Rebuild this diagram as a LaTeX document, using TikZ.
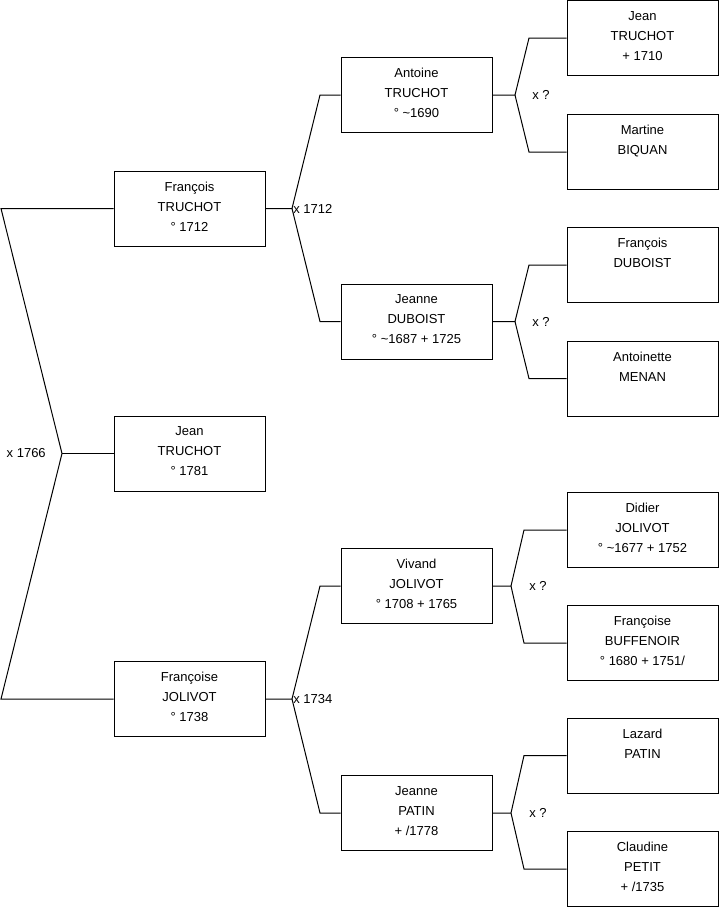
\documentclass[tikz,border=0pt]{standalone}
\usepackage{fontspec}
\setmainfont{Liberation Sans}
\usepackage{tikz}
\tikzset{
 person/.style={draw,line width=0.75pt,minimum width=113.25pt,minimum height=56.25pt,
  inner sep=0pt,text depth=3pt,align=center,font=\fontsize{9.75}{15}\selectfont},
 link/.style={line width=0.75pt},
 union/.style={inner sep=0pt,font=\fontsize{9.75}{15}\selectfont}
}

\begin{document}
\begin{tikzpicture}[x=0.75pt,y=-0.75pt]
 \useasboundingbox (0,0) rectangle (719,908);
 % generation 1
 \node[person] (francoisT) at (189.5,208.5) {François\\TRUCHOT\\° 1712};
 \node[person] (jeanT) at (189.5,453.5) {Jean\\TRUCHOT\\° 1781};
 \node[person] (francoiseJ) at (189.5,699) {Françoise\\JOLIVOT\\° 1738};
 % generation 2
 \node[person] (antoineT) at (416.5,95) {Antoine\\TRUCHOT\\° \textasciitilde1690};
 \node[person] (jeanneD) at (416.5,321.5) {Jeanne\\DUBOIST\\° \textasciitilde1687 + 1725};
 \node[person] (vivandJ) at (416.5,586) {Vivand\\JOLIVOT\\° 1708 + 1765};
 \node[person] (jeanneP) at (416.5,813) {Jeanne\\PATIN\\+ /1778};
 % generation 3
 \node[person] (jeanTsen) at (642.5,38) {Jean\\TRUCHOT\\+ 1710};
 \node[person] (martineB) at (642.5,152) {Martine\\BIQUAN\\\mbox{}};
 \node[person] (francoisD) at (642.5,265) {François\\DUBOIST\\\mbox{}};
 \node[person] (antoinetteM) at (642.5,378.5) {Antoinette\\MENAN\\\mbox{}};
 \node[person] (didierJ) at (642.5,530) {Didier\\JOLIVOT\\° \textasciitilde1677 + 1752};
 \node[person] (francoiseB) at (642.5,643) {Françoise\\BUFFENOIR\\° 1680 + 1751/};
 \node[person] (lazardP) at (642.5,755.5) {Lazard\\PATIN\\\mbox{}};
 \node[person] (claudineP) at (642.5,869) {Claudine\\PETIT\\+ /1735};

 % parents of Jean
 \coordinate (fork-jeanT) at (62,0 |- jeanT.west);
 \draw[link] (francoisT.west) -- (1,0 |- francoisT.west) -- (fork-jeanT)
  -- (1,0 |- francoiseJ.west) -- (francoiseJ.west);
 \draw[link] (fork-jeanT) -- (jeanT.west);
 \node[union,anchor=east] (u-jeanT) at ([xshift=-12pt]fork-jeanT) {x 1766};

 % the other unions
 \foreach \kid/\dad/\mum/\fx/\cx/\dx/\txt in {
   francoisT/antoineT/jeanneD/292/320/1/x 1712,
   francoiseJ/vivandJ/jeanneP/292/320/1/x 1734,
   antoineT/jeanTsen/martineB/515/529/17/x ?,
   jeanneD/francoisD/antoinetteM/515/529/17/x ?,
   vivandJ/didierJ/francoiseB/511/524/18/x ?,
   jeanneP/lazardP/claudineP/511/524/18/x ?}{
  \coordinate (fork-\kid) at (\fx,0 |- \kid.east);
  \draw[link] (\kid.east) -- (fork-\kid) -- (\cx,0 |- \dad.west) -- (\dad.west);
  \draw[link] (fork-\kid) -- (\cx,0 |- \mum.west) -- (\mum.west);
  \node[union,anchor=west] (u-\kid) at ([xshift=\dx*0.75pt]fork-\kid) {\txt};
 }
\end{tikzpicture}
\end{document}
